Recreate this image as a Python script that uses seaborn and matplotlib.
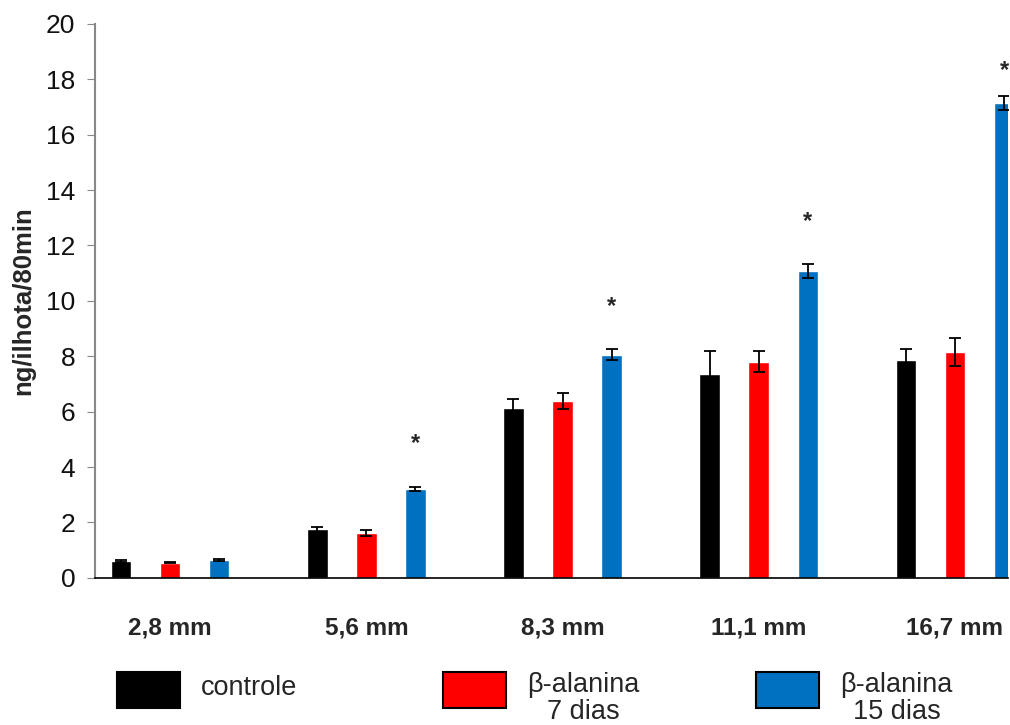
import numpy as np
import pandas as pd
import seaborn as sns
import matplotlib.pyplot as plt
from matplotlib.patches import Rectangle

# data
glicose = ["2,8 mm", "5,6 mm", "8,3 mm", "11,1 mm", "16,7 mm"]
grupos = ["controle", "β-alanina 7 dias", "β-alanina 15 dias"]
controle = [0.62, 1.75, 6.12, 7.35, 7.87]
bala_7 = [0.55, 1.62, 6.40, 7.80, 8.16]
bala_15 = [0.63, 3.20, 8.05, 11.08, 17.15]
err_controle = [0.04, 0.10, 0.32, 0.85, 0.40]
err_bala_7 = [0.03, 0.10, 0.29, 0.38, 0.50]
err_bala_15 = [0.04, 0.08, 0.20, 0.25, 0.25]
asterisco_y = [None, 4.85, 9.8, 12.85, 18.3]

cores = ["#000000", "#FF0000", "#0070C0"]

df = pd.DataFrame({
    "glicose": glicose * 3,
    "grupo": np.repeat(grupos, len(glicose)),
    "valor": controle + bala_7 + bala_15,
    "erro": err_controle + err_bala_7 + err_bala_15,
})

sns.set_style("white")
plt.rcParams["font.family"] = ["Liberation Sans", "DejaVu Sans"]

fig = plt.figure(figsize=(10.1, 7.25), dpi=100)
ax = fig.add_axes([0.094, 0.203, 0.904, 0.764])

sns.barplot(data=df, x="glicose", y="valor", hue="grupo", order=glicose,
            hue_order=grupos, palette=cores, saturation=1, width=0.75,
            gap=0.58, errorbar=None, legend=False, ax=ax)

# error bars at bar centres
for cont, g in zip(ax.containers, grupos):
    sub = df[df["grupo"] == g].set_index("glicose").loc[glicose]
    xs = [p.get_x() + p.get_width() / 2 for p in cont.patches]
    ax.errorbar(xs, sub["valor"], yerr=sub["erro"], fmt="none",
                ecolor="black", elinewidth=1.3, capsize=4, capthick=1.3)

# asterisks over the 15 dias bars
for p, yy in zip(ax.containers[2].patches, asterisco_y):
    if yy is not None:
        ax.text(p.get_x() + p.get_width() / 2, yy, "*", ha="center",
                va="center", fontsize=17, fontweight="bold")

ax.set_ylim(0, 20)
ax.set_xlim(-0.383, 4.27)
ax.set_yticks(range(0, 21, 2))
ax.tick_params(axis="y", labelsize=19, length=6, color="#888888",
               direction="out", left=True, pad=8, labelcolor="#111111")
ax.tick_params(axis="x", length=0, labelsize=17.5, pad=28)
for lab in ax.get_xticklabels():
    lab.set_fontweight("bold")
ax.set_xlabel("")
ax.set_ylabel("ng/ilhota/80min", fontsize=18.5, fontweight="bold", labelpad=8)

sns.despine(ax=ax, top=True, right=True)
ax.spines["left"].set_color("#888888")
ax.spines["left"].set_linewidth(1.5)
ax.spines["bottom"].set_color("black")
ax.spines["bottom"].set_linewidth(1.2)

# legend at the bottom
leg_x = [0.116, 0.439, 0.749]
leg_txt = ["controle", "β-alanina\n7 dias", "β-alanina\n15 dias"]
for x0, c, t in zip(leg_x, cores, leg_txt):
    fig.add_artist(Rectangle((x0, 1 - 708 / 725), 63 / 1010, 36 / 725,
                             transform=fig.transFigure, facecolor=c,
                             edgecolor="black", linewidth=1.5))
    tx = x0 + 84 / 1010
    if "\n" in t:
        fig.text(tx, 1 - 672 / 725, t, fontsize=19.5, va="top", ha="left",
                 multialignment="center", linespacing=1.05)
    else:
        fig.text(tx, 1 - 688 / 725, t, fontsize=19.5, va="center", ha="left")

plt.savefig("out.png", dpi=100)
